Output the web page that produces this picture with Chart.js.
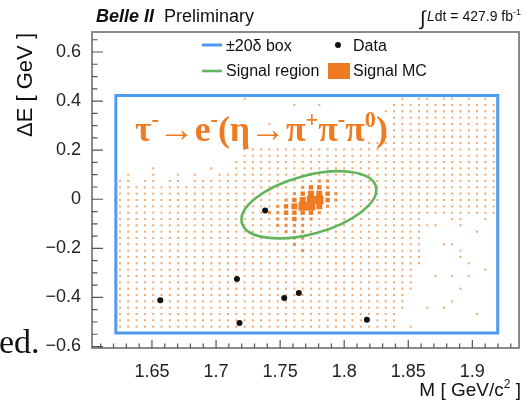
<!DOCTYPE html>
<html lang="en">
<head>
<meta charset="UTF-8">
<title>Belle II tau -> e eta</title>
<script src="https://cdn.jsdelivr.net/npm/chart.js@4.4.1/dist/chart.umd.min.js"></script>
<style>
  html, body { margin: 0; padding: 0; background: #fff; }
  #wrap { width: 529px; height: 403px; }
</style>
</head>
<body>
<div id="wrap"><canvas id="chart" width="529" height="403"></canvas></div>
<script>
// axes
const xRange = [1.6032, 1.9364];
const yRange = [-0.606, 0.6815];
const xTicks = [1.65, 1.70, 1.75, 1.80, 1.85, 1.90];
const xTickLabels = ['1.65', '1.7', '1.75', '1.8', '1.85', '1.9'];
const yTicks = [-0.6, -0.4, -0.2, 0, 0.2, 0.4, 0.6];
const yTickLabels = ['\u22120.6', '\u22120.4', '\u22120.2', '0', '0.2', '0.4', '0.6'];

// observed data events
const dataM = [1.6565, 1.7163, 1.7183, 1.7383, 1.7532, 1.7646, 1.8177];
const dataE = [-0.411, -0.325, -0.5045, -0.0456, -0.4026, -0.3822, -0.491];

// +-20 delta box
const boxM = [1.6218, 1.9198];
const boxE = [-0.5452, 0.4227];

// signal region: ends of the major axis, minor/major ratio
const ellipseM = [1.7202, 1.8247];
const ellipseE = [-0.0970, 0.0522];
const ellipseRatio = 0.42;

// signal MC histogram binning
const mcLowM = 1.6218, mcStepM = 0.00648, mcNM = 46;
const mcTopE = 0.4227, mcStepE = 0.0258;
// bin content, top row first: ' ' empty, '.' < ':' < 'o' < 'O' < '#'
const mcLevels = ' .:oO#';
const mcRows = [
  "               .                  . .. .. . . ",
  "                     .  .        .............",
  "                                ..............",
  "                                 .............",
  "                  .              .............",
  "                                 .............",
  "                                ..............",
  "                              ................",
  "               ...............................",
  "               ...............................",
  "              ................................",
  "    .      .  ................................",
  " .  .  . .  ..................................",
  ".. .. .. ...............::....................",
  "......................:oo:....................",
  ".....................:oOOo:...................",
  "....................:oO##o:...................",
  "...................:oO##O:....................",
  "..................::oooo:.....................",
  "...................::o::.............   ..  . ",
  "...................::::................  .    ",
  "....................:::..............      .  ",
  ".....................::..............         ",
  ".....................:...............  ..     ",
  "......................:..............    .    ",
  ".....................................    .    ",
  ".....................................     .   ",
  "....................................        . ",
  "....................................  . . .   ",
  "....................................          ",
  "....................................     .    ",
  "...................................           ",
  "...................................     .     ",
  "...................................  . .      ",
  "..................................         .  ",
  "..................................            ",
  ".................................. .          "
];

const mcRadius = [0, 1.45, 2.2, 3.1, 4.2, 6.0];
const mcColor = ['', '#f3ab74', '#ef8d43', '#ee7b22', '#ee7b22', '#ee7b22'];

const mcPoints = [];
mcRows.forEach((row, r) => {
  for (let i = 0; i < mcNM; i++) {
    const lvl = mcLevels.indexOf(row[i] || ' ');
    if (lvl > 0) {
      mcPoints.push({ x: mcLowM + (i + 0.5) * mcStepM, y: mcTopE - (r + 0.5) * mcStepE, lvl: lvl });
    }
  }
});

const SANS = '"Liberation Sans", Arial, sans-serif';
const SERIF = '"Liberation Serif", "Times New Roman", serif';

function drawRuns(ctx, x, y, parts) {
  let cx = x;
  parts.forEach(p => {
    ctx.font = p[1];
    ctx.fillText(p[0], cx, y + (p[2] || 0));
    cx += ctx.measureText(p[0]).width;
  });
  return cx - x;
}
function runsWidth(ctx, parts) {
  let w = 0;
  parts.forEach(p => { ctx.font = p[1]; w += ctx.measureText(p[0]).width; });
  return w;
}

const decor = {
  id: 'decor',
  afterDatasetsDraw(chart) {
    const { ctx, chartArea: a, scales: { x, y } } = chart;
    ctx.save();

    // signal region ellipse
    const x0 = x.getPixelForValue(ellipseM[0]), y0 = y.getPixelForValue(ellipseE[0]);
    const x1 = x.getPixelForValue(ellipseM[1]), y1 = y.getPixelForValue(ellipseE[1]);
    const ra = Math.hypot(x1 - x0, y1 - y0) / 2;
    ctx.beginPath();
    ctx.ellipse((x0 + x1) / 2, (y0 + y1) / 2, ra, ra * ellipseRatio, Math.atan2(y1 - y0, x1 - x0), 0, 2 * Math.PI);
    ctx.strokeStyle = '#62b55a';
    ctx.lineWidth = 2.6;
    ctx.stroke();

    // frame
    ctx.strokeStyle = '#8a8a8a';
    ctx.lineWidth = 2;
    ctx.strokeRect(a.left, a.top, a.right - a.left, a.bottom - a.top);

    // inner ticks
    ctx.strokeStyle = '#555';
    ctx.lineWidth = 1.2;
    ctx.beginPath();
    for (let k = 161; k <= 193; k++) {
      const px = x.getPixelForValue(k / 100);
      const len = k % 5 === 0 ? 8 : 4.5;
      ctx.moveTo(px, a.bottom); ctx.lineTo(px, a.bottom - len);
    }
    for (let k = -12; k <= 13; k++) {
      const py = y.getPixelForValue(k * 0.05);
      const len = k % 4 === 0 ? 11 : 5.5;
      ctx.moveTo(a.left, py); ctx.lineTo(a.left + len, py);
    }
    ctx.stroke();

    ctx.fillStyle = '#111';
    ctx.textBaseline = 'alphabetic';
    ctx.textAlign = 'left';

    // header
    ctx.font = 'italic bold 18px ' + SANS;
    ctx.fillText('Belle II', 96, 22);
    ctx.font = '18px ' + SANS;
    ctx.fillText('Preliminary', 164, 22);

    const lumi = [['L', 'italic 14px ' + SANS], ['dt = 427.9 fb', '14px ' + SANS], ['-1', '9px ' + SANS, -6]];
    const lw = runsWidth(ctx, lumi);
    drawRuns(ctx, 521 - lw, 21, lumi);
    ctx.font = '20px ' + SANS;
    ctx.fillText('\u222B', 521 - lw - 7, 25);

    // axis titles
    const xt = [['M [ GeV/c', '19px ' + SANS], ['2', '12px ' + SANS, -8], [' ]', '19px ' + SANS]];
    drawRuns(ctx, 521 - runsWidth(ctx, xt), 396, xt);
    ctx.save();
    ctx.translate(32, 33);
    ctx.rotate(-Math.PI / 2);
    ctx.textAlign = 'right';
    ctx.font = '22px ' + SANS;
    ctx.fillText('\u0394E [ GeV ]', 0, 0);
    ctx.restore();

    // legend
    ctx.lineWidth = 3;
    ctx.strokeStyle = '#4d9bef';
    ctx.beginPath(); ctx.moveTo(202, 45); ctx.lineTo(222, 45); ctx.stroke();
    ctx.lineWidth = 2.6;
    ctx.strokeStyle = '#62b55a';
    ctx.beginPath(); ctx.moveTo(202, 71); ctx.lineTo(222, 71); ctx.stroke();
    ctx.beginPath(); ctx.arc(338, 45, 3, 0, 2 * Math.PI); ctx.fill();
    ctx.fillStyle = '#ee7b22';
    ctx.fillRect(328, 63, 22, 16);
    ctx.fillStyle = '#111';
    ctx.font = '16px ' + SANS;
    ctx.fillText('\u00B120\u03B4 box', 226, 51);
    ctx.fillText('Data', 353, 51);
    ctx.fillText('Signal region', 226, 76);
    ctx.fillText('Signal MC', 353, 76);

    // decay label
    const mk = fs => {
      const b = 'bold ' + fs + 'px ' + SERIF, s = 'bold ' + (fs * 0.62).toFixed(1) + 'px ' + SERIF, d = -fs * 0.4;
      return [['\u03C4', b], ['-', s, d], ['\u2192e', b], ['-', s, d], ['(\u03B7\u2192\u03C0', b], ['+', s, d],
              ['\u03C0', b], ['-', s, d], ['\u03C0', b], ['0', s, d], [')', b]];
    };
    const fs = 28 * 253 / runsWidth(ctx, mk(28));
    ctx.fillStyle = '#ee7b22';
    drawRuns(ctx, 135, 141, mk(fs));

    // cut-off slide text
    ctx.fillStyle = '#111';
    ctx.font = '34px ' + SERIF;
    ctx.fillText('ed.', -1, 353);

    ctx.restore();
  }
};

new Chart(document.getElementById('chart'), {
  type: 'scatter',
  data: {
    datasets: [
      {
        label: 'Data',
        data: dataM.map((m, i) => ({ x: m, y: dataE[i] })),
        pointRadius: 3,
        backgroundColor: '#111',
        borderWidth: 0
      },
      {
        label: '\u00B120\u03B4 box',
        type: 'line',
        data: [
          { x: boxM[0], y: boxE[0] }, { x: boxM[0], y: boxE[1] },
          { x: boxM[1], y: boxE[1] }, { x: boxM[1], y: boxE[0] }, { x: boxM[0], y: boxE[0] }
        ],
        borderColor: '#4d9bef',
        borderWidth: 3,
        borderCapStyle: 'square',
        borderJoinStyle: 'miter',
        pointRadius: 0,
        fill: false,
        tension: 0
      },
      {
        label: 'Signal MC',
        data: mcPoints,
        pointStyle: 'rect',
        pointRadius: c => mcRadius[c.raw.lvl],
        backgroundColor: c => mcColor[c.raw.lvl],
        borderWidth: 0
      }
    ]
  },
  options: {
    responsive: false,
    animation: false,
    events: [],
    layout: { padding: { top: 32, right: 10, left: 0, bottom: 0 } },
    plugins: { legend: { display: false }, tooltip: { enabled: false } },
    scales: {
      x: {
        type: 'linear',
        min: xRange[0],
        max: xRange[1],
        grid: { display: false, drawTicks: false },
        border: { display: false },
        afterBuildTicks: s => { s.ticks = xTicks.map(v => ({ value: v })); },
        afterFit: s => { s.height = 55; },
        ticks: {
          autoSkip: false, maxRotation: 0, padding: 13, color: '#222',
          font: { family: SANS, size: 18 },
          callback: (v, i) => xTickLabels[i]
        }
      },
      y: {
        type: 'linear',
        min: yRange[0],
        max: yRange[1],
        grid: { display: false, drawTicks: false },
        border: { display: false },
        afterBuildTicks: s => { s.ticks = yTicks.map(v => ({ value: v })); },
        afterFit: s => { s.width = 92; },
        ticks: {
          autoSkip: false, padding: 11, color: '#222',
          font: { family: SANS, size: 18 },
          callback: (v, i) => yTickLabels[i]
        }
      }
    }
  },
  plugins: [decor]
});
</script>
</body>
</html>
